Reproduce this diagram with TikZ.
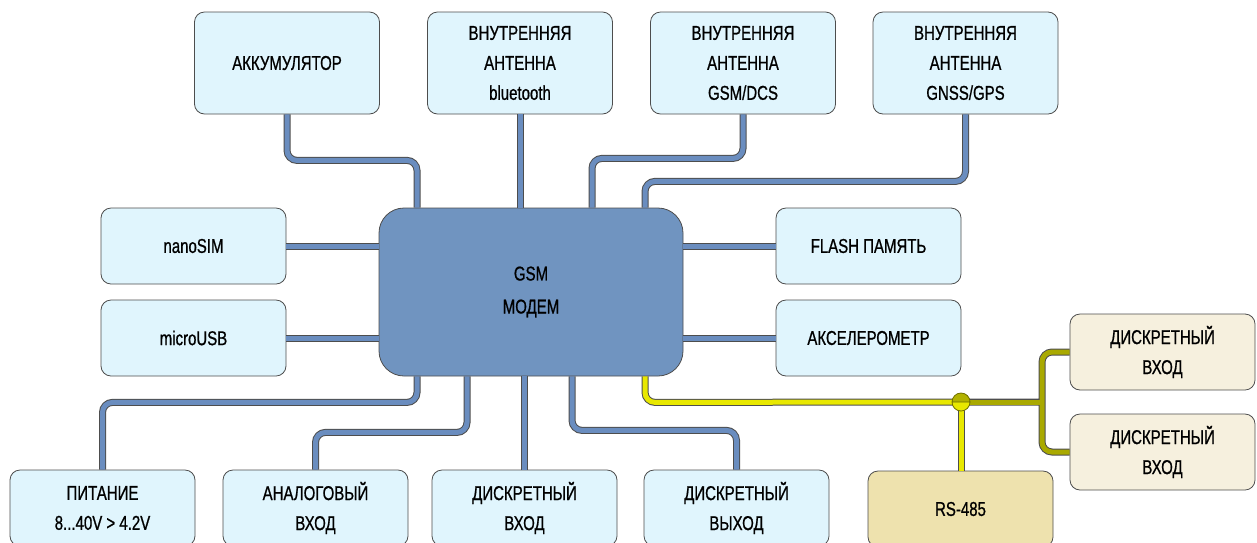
\documentclass[tikz,border=0pt]{standalone}
\usepackage{fontspec}
\setmainfont[FakeStretch=0.75,FakeBold=0.8]{Liberation Sans}
\usetikzlibrary{calc}
\usetikzlibrary{positioning}

\definecolor{boxline}{HTML}{4D4D4D}
\definecolor{boxfill}{HTML}{E0F5FD}
\definecolor{modemfill}{HTML}{7094C0}
\definecolor{wireblue}{HTML}{6A8DBF}
\definecolor{wireyellow}{HTML}{E8E800}
\definecolor{wireolive}{HTML}{A9A900}
\definecolor{jnline}{HTML}{6E6E00}
\definecolor{creamfill}{HTML}{F6F0DE}
\definecolor{tanfill}{HTML}{EEE2AE}

\tikzset{
  unit/.style={draw=boxline,fill=boxfill,rounded corners=10pt,line width=0.8pt,
    minimum width=185pt,minimum height=76pt,align=center,
    font=\fontsize{20}{30}\selectfont},
  tallunit/.style={unit,minimum height=102pt},
  wire/.style={draw=boxline,double=wireblue,double distance=5pt,line width=1pt,rounded corners=10pt},
  ywire/.style={wire,double=wireyellow},
}

\begin{document}
\begin{tikzpicture}[x=1pt,y=-1pt]

  \useasboundingbox (0,0) rectangle (1257,542);

  % upper row
  \node [tallunit] (akk)  at (287,63)   {АККУМУЛЯТОР};
  \node [tallunit] (bt)   at (520,63)   {ВНУТРЕННЯЯ\\АНТЕННА\\bluetooth};
  \node [tallunit] (gsm)  at (743,63)   {ВНУТРЕННЯЯ\\АНТЕННА\\GSM/DCS};
  \node [tallunit] (gnss) at (965.5,63) {ВНУТРЕННЯЯ\\АНТЕННА\\GNSS/GPS};

  % modem with side units
  \node [unit,fill=modemfill,rounded corners=25pt,minimum width=304pt,minimum height=168pt,font=\fontsize{20}{33}\selectfont] (modem) at (531,292) {GSM\\МОДЕМ};
  \node [unit] (nanosim)  at (193.5,246) {nanoSIM};
  \node [unit] (microusb) at (193.5,338) {microUSB};
  \node [unit] (flash)    at (868.5,246) {FLASH ПАМЯТЬ};
  \node [unit] (accel)    at (868.5,338) {АКСЕЛЕРОМЕТР};

  % lower row
  \node [unit] (pit)    at (102.5,508) {ПИТАНИЕ\\8...40V > 4.2V};
  \node [unit] (analog) at (315.5,508) {АНАЛОГОВЫЙ\\ВХОД};
  \node [unit] (din)    at (524.5,508) {ДИСКРЕТНЫЙ\\ВХОД};
  \node [unit] (dout)   at (736.5,508) {ДИСКРЕТНЫЙ\\ВЫХОД};
  \node [unit,fill=tanfill] (rs) at (960.5,509) {RS-485};
  \node [unit,fill=creamfill] (dr1) at (1162.5,352) {ДИСКРЕТНЫЙ\\ВХОД};
  \node [unit,fill=creamfill] (dr2) at (1162.5,452) {ДИСКРЕТНЫЙ\\ВХОД};

  % blue connectors
  \path [wire]
    (akk.south) -- ++(0,46) -| ([xshift=-114pt]modem.north);
  \path [wire] (bt.south) -- (bt.south |- modem.north);
  \path [wire]
    (gsm.south) -- ++(0,44) -| ([xshift=61pt]modem.north);
  \path [wire]
    (gnss.south) -- ++(0,67) -| ([xshift=114pt]modem.north);
  \path [wire] (nanosim.east)  -- (nanosim.east -| modem.west);
  \path [wire] (microusb.east) -- (microusb.east -| modem.west);
  \path [wire] (flash.west) -- (flash.west -| modem.east);
  \path [wire] (accel.west) -- (accel.west -| modem.east);
  \path [wire]
    ([xshift=-114pt]modem.south) -- ++(0,26) -| (pit.north);
  \path [wire]
    ([xshift=-64pt]modem.south) -- ++(0,56) -| (analog.north);
  \path [wire] (din.north) -- (din.north |- modem.south);
  \path [wire]
    ([xshift=41pt]modem.south) -- ++(0,54) -| (dout.north);

  % bus to RS-485 and discrete inputs
  \coordinate (jn) at (961,402);
  \coordinate (br) at (1042,402);
  \path [ywire]
    ([xshift=114pt]modem.south) -- ++(0,26) -- (jn);
  \path [ywire] (jn) -- (jn |- rs.north);
  \draw [boxline,line width=7pt,rounded corners=10pt] (jn) -- (br) (dr1.west) -| (br) |- (dr2.west);
  \draw [wireolive,line width=5pt] (jn) -- (br);
  \draw [wireolive,line width=5pt,rounded corners=10pt] (dr1.west) -| (br) |- (dr2.west);

  % junction
  \fill [wireyellow] (jn) circle (9pt);
  \fill [wireolive!85!wireyellow] ([xshift=-9pt]jn) arc (180:0:9pt) -- cycle;
  \draw [jnline,line width=0.8pt] (jn) circle (9pt) ([xshift=-9pt]jn) -- ([xshift=9pt]jn);

\end{tikzpicture}
\end{document}
